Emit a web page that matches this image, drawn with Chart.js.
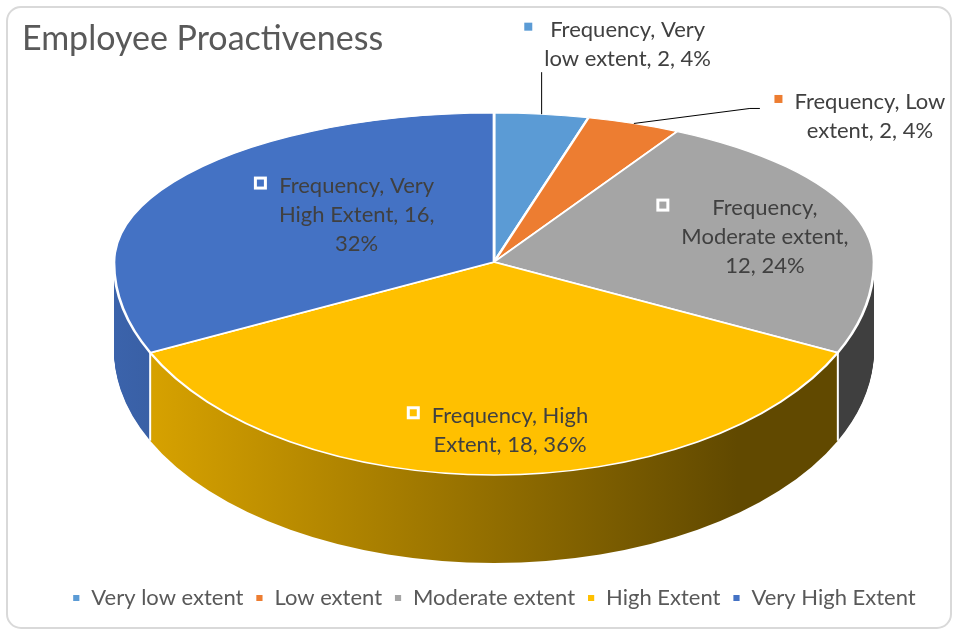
<!DOCTYPE html>
<html>
<head>
<meta charset="utf-8">
<title>Employee Proactiveness</title>
<script src="https://cdn.jsdelivr.net/npm/chart.js@4.4.1/dist/chart.umd.min.js"></script>
<style>
  html, body { margin: 0; padding: 0; background: #fff; }
  #wrap { width: 956px; height: 633px; }
</style>
</head>
<body>
<div id="wrap"><canvas id="pieChart" width="956" height="633"></canvas></div>
<script>
// data
const seriesName = 'Frequency';
const categories = ['Very low extent', 'Low extent', 'Moderate extent', 'High Extent', 'Very High Extent'];
const frequency = [2, 2, 12, 18, 16];
const sliceColors = ['#5B9BD5', '#ED7D31', '#A5A5A5', '#FFC000', '#4472C4'];

// the flat Chart.js pie is laid down as a tilted disc: back half flatter than front half
const EX = 494, EY = 262, RX = 380, RY_UP = 149, RY_DOWN = 213, DEPTH = 88;
const FONT = 'Lato, "Open Sans", sans-serif';

// label placement: inside labels sit at fraction f of the radius, outside ones get a leader line
const labelLayout = [
    { outside: true, elbow: [0, -42], end: [0, -42], text: [86, -70] },
    { outside: true, elbow: [116, -15], end: [126, -15], text: [236, -7] },
    { f: 0.78, dx: -11, dy: 11 },
    { f: 0.79, dx: 16, dy: 0 },
    { f: 0.4, dx: -9, dy: -15 }
];

function shade(hex, k) {
    const n = parseInt(hex.slice(1), 16);
    const r = Math.round(((n >> 16) & 255) * k);
    const g = Math.round(((n >> 8) & 255) * k);
    const b = Math.round((n & 255) * k);
    return `rgb(${r}, ${g}, ${b})`;
}

function project(angle, f) {
    const s = Math.sin(angle);
    return {
        x: EX + f * RX * Math.cos(angle),
        y: EY + f * (s < 0 ? RY_UP : RY_DOWN) * s
    };
}

const frame = {
    id: 'frame',
    beforeDraw(chart) {
        const ctx = chart.ctx;
        ctx.save();
        ctx.strokeStyle = '#d9d9d9';
        ctx.lineWidth = 2;
        ctx.beginPath();
        ctx.roundRect(7, 7, 944, 621, 14);
        ctx.stroke();
        ctx.restore();
    }
};

const pie3d = {
    id: 'pie3d',
    beforeDatasetsDraw(chart) {
        const ctx = chart.ctx;
        const W = chart.width, H = chart.height;
        const arcs = chart.getDatasetMeta(0).data;
        const cx = arcs[0].x, cy = arcs[0].y, r = arcs[0].outerRadius;

        const sideFills = arcs.map((arc, i) => {
            const g = ctx.createLinearGradient(cx - r, 0, cx + r, 0);
            g.addColorStop(0, shade(sliceColors[i], 0.87));
            g.addColorStop(0.82, shade(sliceColors[i], 0.38));
            g.addColorStop(1, shade(sliceColors[i], 0.38));
            return g;
        });

        const place = (dy, ry) => {
            ctx.translate(EX, EY + dy);
            ctx.scale(RX / r, ry / r);
            ctx.translate(-cx, -cy);
        };
        const clipRows = (y0, y1) => {
            ctx.beginPath();
            ctx.rect(0, y0, W, y1 - y0);
            ctx.clip();
        };

        // side wall: stack the front half of the arcs downwards in darker shades
        for (let d = DEPTH; d > 0; d--) {
            ctx.save();
            clipRows(EY + d, H);
            place(d, RY_DOWN);
            arcs.forEach((arc, i) => {
                const side = Object.create(arc);
                side.options = Object.assign({}, arc.options, { backgroundColor: sideFills[i], borderWidth: 0 });
                side.draw(ctx);
            });
            ctx.restore();
        }

        // white seams on the wall between slices
        ctx.save();
        ctx.strokeStyle = '#ffffff';
        ctx.lineWidth = 2;
        arcs.forEach(arc => {
            const a = arc.startAngle;
            if (Math.sin(a) > 0.02) {
                const p = project(a, 1);
                ctx.beginPath();
                ctx.moveTo(p.x, p.y);
                ctx.lineTo(p.x, p.y + DEPTH);
                ctx.stroke();
            }
        });
        ctx.restore();

        // top face, front half then back half
        ctx.save();
        clipRows(EY, H);
        place(0, RY_DOWN);
        arcs.forEach(arc => arc.draw(ctx));
        ctx.restore();

        ctx.save();
        clipRows(0, EY);
        place(0, RY_UP);
        arcs.forEach(arc => arc.draw(ctx));
        ctx.restore();
        return false;
    }
};

function wrapWords(ctx, text, maxWidth) {
    const words = text.split(' ');
    const lines = [];
    let line = words[0];
    for (let i = 1; i < words.length; i++) {
        const test = line + ' ' + words[i];
        if (ctx.measureText(test).width > maxWidth) {
            lines.push(line);
            line = words[i];
        } else {
            line = test;
        }
    }
    lines.push(line);
    return lines;
}

const sliceLabels = {
    id: 'sliceLabels',
    afterDraw(chart) {
        const ctx = chart.ctx;
        const arcs = chart.getDatasetMeta(0).data;
        const total = frequency.reduce((a, b) => a + b, 0);
        ctx.save();
        ctx.font = `22px ${FONT}`;
        ctx.textAlign = 'center';
        ctx.textBaseline = 'middle';

        arcs.forEach((arc, i) => {
            const lay = labelLayout[i];
            const mid = (arc.startAngle + arc.endAngle) / 2;
            const pct = Math.round(frequency[i] / total * 100);
            const text = `${seriesName}, ${categories[i]}, ${frequency[i]}, ${pct}%`;
            const lines = wrapWords(ctx, text, 186);
            let bx, by;

            if (lay.outside) {
                const rim = project(mid, 1);
                ctx.strokeStyle = '#000000';
                ctx.lineWidth = 1;
                ctx.beginPath();
                ctx.moveTo(rim.x, rim.y);
                ctx.lineTo(rim.x + lay.elbow[0], rim.y + lay.elbow[1]);
                ctx.lineTo(rim.x + lay.end[0], rim.y + lay.end[1]);
                ctx.stroke();
                bx = rim.x + lay.text[0];
                by = rim.y + lay.text[1];
            } else {
                const p = project(mid, lay.f);
                bx = p.x + lay.dx;
                by = p.y + lay.dy;
            }

            const lh = 29;
            const top = by - (lines.length - 1) * lh / 2;
            const widest = Math.max(...lines.map(l => ctx.measureText(l).width));
            const keyX = bx - widest / 2 - 12;
            const keyY = top - 3;

            if (lay.outside) {
                ctx.fillStyle = sliceColors[i];
                ctx.fillRect(keyX - 8, keyY - 4, 8, 8);
            } else {
                ctx.fillStyle = '#ffffff';
                ctx.fillRect(keyX - 13, keyY - 6.5, 13, 13);
                ctx.fillStyle = sliceColors[i];
                ctx.fillRect(keyX - 10, keyY - 3.5, 7, 7);
            }

            ctx.fillStyle = '#404040';
            lines.forEach((l, k) => ctx.fillText(l, bx, top + k * lh));
        });
        ctx.restore();
    }
};

const ctx = document.getElementById('pieChart').getContext('2d');
new Chart(ctx, {
    type: 'pie',
    data: {
        labels: categories,
        datasets: [{
            label: seriesName,
            data: frequency,
            backgroundColor: sliceColors,
            borderColor: '#ffffff',
            borderWidth: 1.8,
            clip: false
        }]
    },
    options: {
        responsive: false,
        animation: false,
        events: [],
        layout: { padding: { left: 22, right: -10, top: 8, bottom: 14 } },
        plugins: {
            title: {
                display: true,
                text: 'Employee Proactiveness',
                align: 'start',
                color: '#595959',
                font: { family: FONT, size: 34, weight: 'normal' },
                padding: { top: 11, bottom: 10 }
            },
            legend: {
                position: 'bottom',
                labels: {
                    color: '#595959',
                    font: { family: FONT, size: 22 },
                    boxWidth: 8,
                    boxHeight: 8,
                    padding: 12
                }
            },
            tooltip: { enabled: false }
        }
    },
    plugins: [frame, pie3d, sliceLabels]
});
</script>
</body>
</html>
